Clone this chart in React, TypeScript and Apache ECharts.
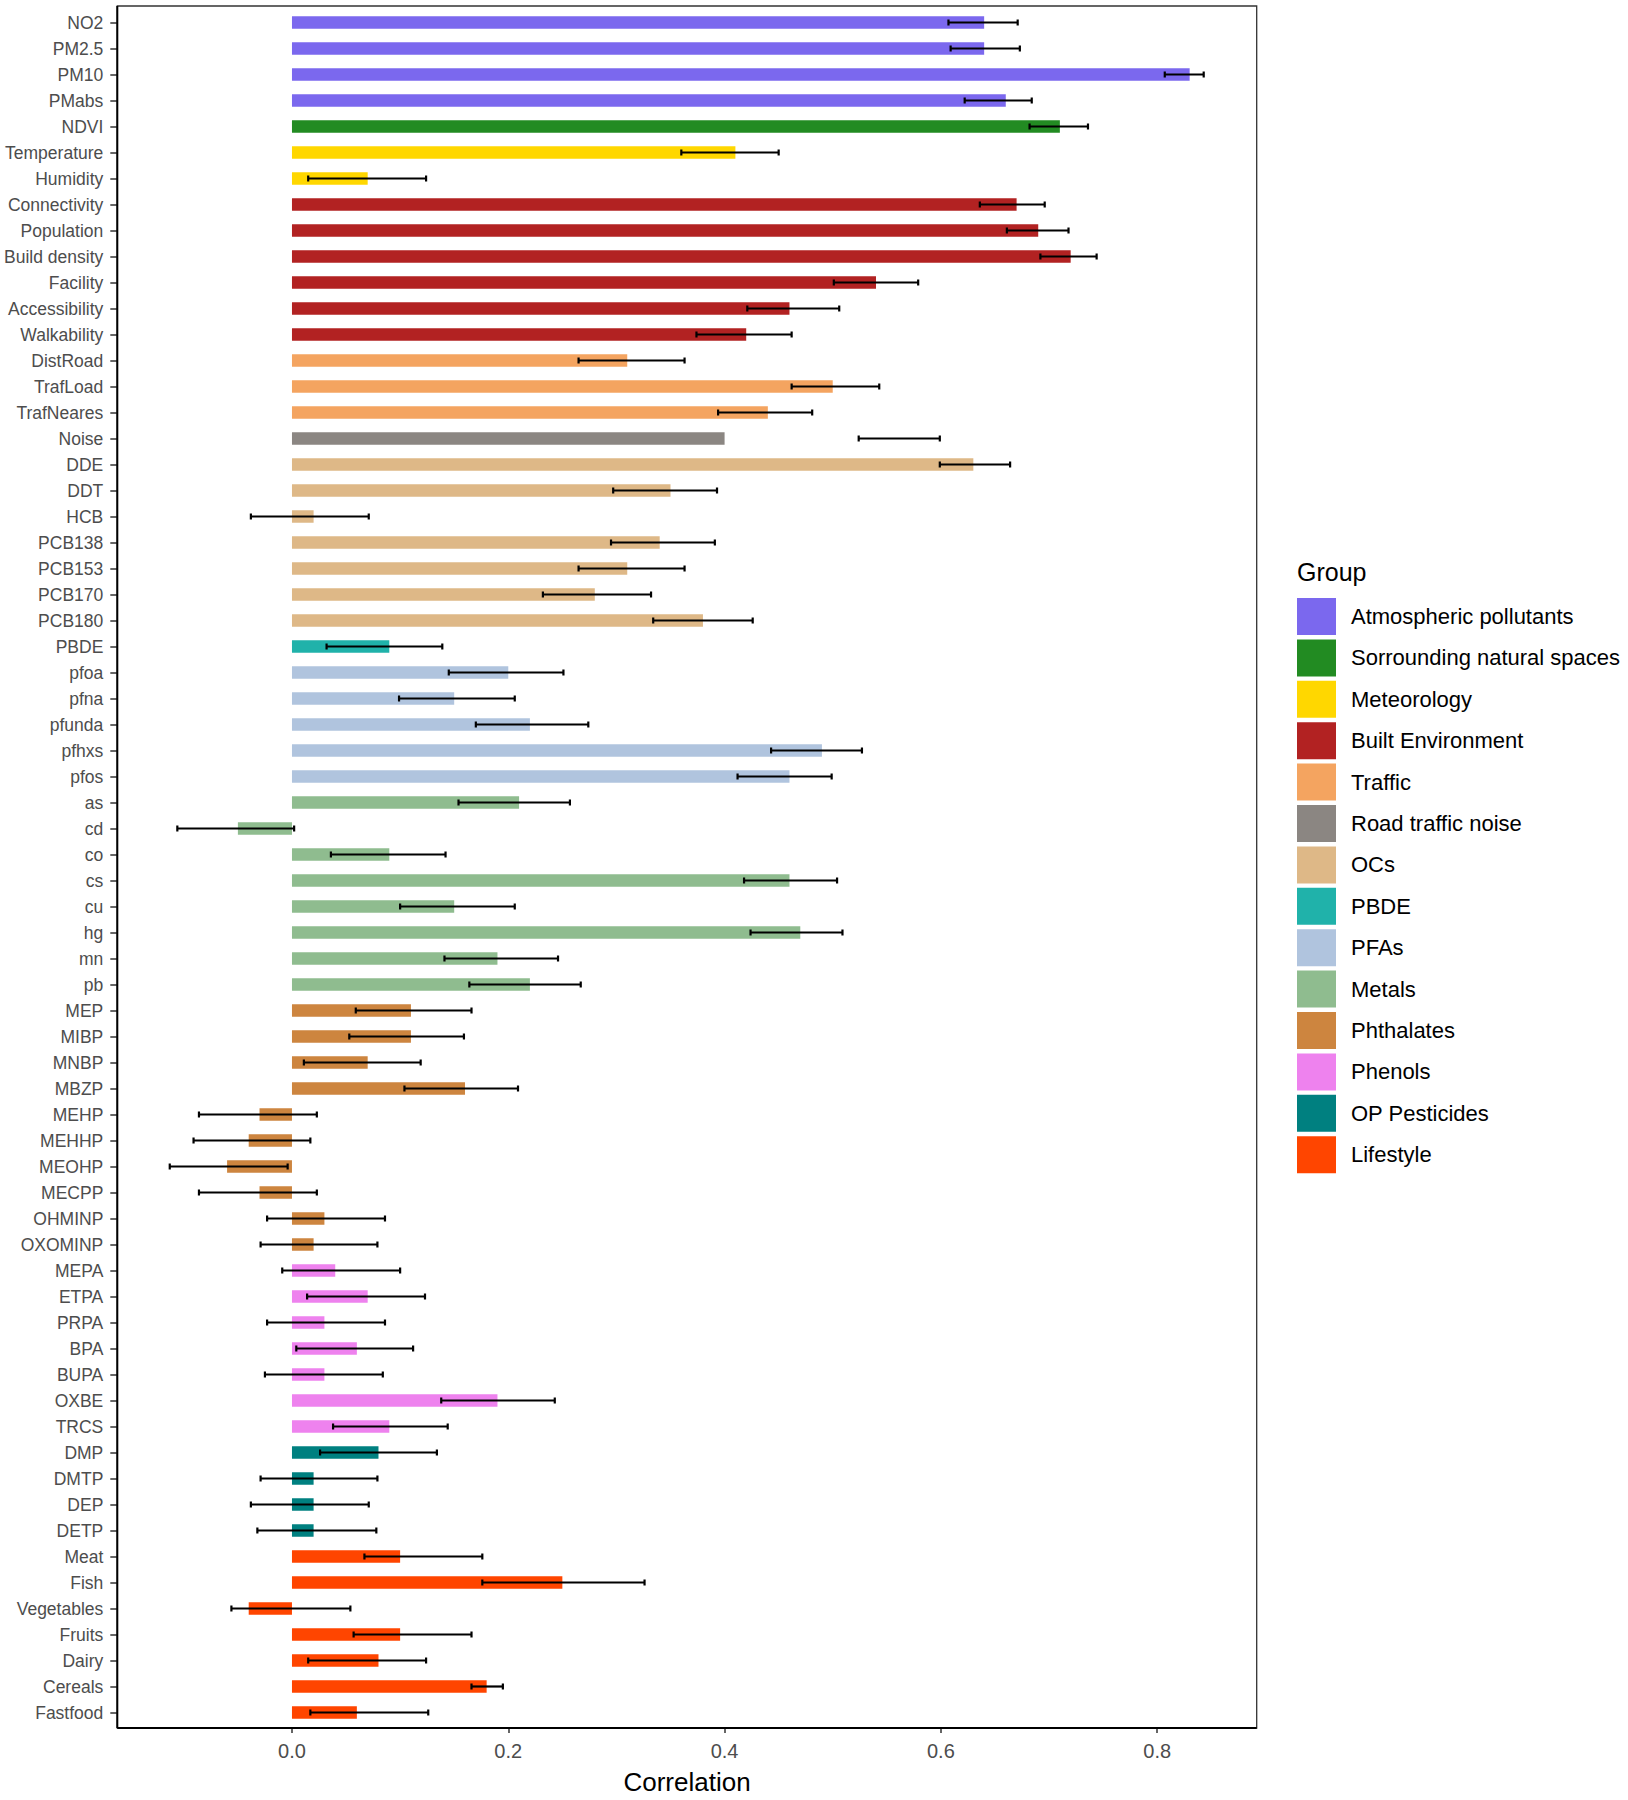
import React, { useEffect, useRef } from "react";
import * as echarts from "echarts";

const categories = [
  "NO2", "PM2.5", "PM10", "PMabs", "NDVI", "Temperature", "Humidity",
  "Connectivity", "Population", "Build density", "Facility", "Accessibility", "Walkability",
  "DistRoad", "TrafLoad", "TrafNeares", "Noise",
  "DDE", "DDT", "HCB", "PCB138", "PCB153", "PCB170", "PCB180", "PBDE",
  "pfoa", "pfna", "pfunda", "pfhxs", "pfos",
  "as", "cd", "co", "cs", "cu", "hg", "mn", "pb",
  "MEP", "MIBP", "MNBP", "MBZP", "MEHP", "MEHHP", "MEOHP", "MECPP", "OHMINP", "OXOMINP",
  "MEPA", "ETPA", "PRPA", "BPA", "BUPA", "OXBE", "TRCS",
  "DMP", "DMTP", "DEP", "DETP",
  "Meat", "Fish", "Vegetables", "Fruits", "Dairy", "Cereals", "Fastfood",
];

const groupOf = [
  "Atmospheric pollutants", "Atmospheric pollutants", "Atmospheric pollutants", "Atmospheric pollutants",
  "Sorrounding natural spaces", "Meteorology", "Meteorology",
  "Built Environment", "Built Environment", "Built Environment", "Built Environment", "Built Environment", "Built Environment",
  "Traffic", "Traffic", "Traffic", "Road traffic noise",
  "OCs", "OCs", "OCs", "OCs", "OCs", "OCs", "OCs", "PBDE",
  "PFAs", "PFAs", "PFAs", "PFAs", "PFAs",
  "Metals", "Metals", "Metals", "Metals", "Metals", "Metals", "Metals", "Metals",
  "Phthalates", "Phthalates", "Phthalates", "Phthalates", "Phthalates", "Phthalates", "Phthalates", "Phthalates", "Phthalates", "Phthalates",
  "Phenols", "Phenols", "Phenols", "Phenols", "Phenols", "Phenols", "Phenols",
  "OP Pesticides", "OP Pesticides", "OP Pesticides", "OP Pesticides",
  "Lifestyle", "Lifestyle", "Lifestyle", "Lifestyle", "Lifestyle", "Lifestyle", "Lifestyle",
];

const correlation = [
  0.64, 0.64, 0.83, 0.66, 0.71, 0.41, 0.07,
  0.67, 0.69, 0.72, 0.54, 0.46, 0.42,
  0.31, 0.50, 0.44, 0.40,
  0.63, 0.35, 0.02, 0.34, 0.31, 0.28, 0.38, 0.09,
  0.20, 0.15, 0.22, 0.49, 0.46,
  0.21, -0.05, 0.09, 0.46, 0.15, 0.47, 0.19, 0.22,
  0.11, 0.11, 0.07, 0.16, -0.03, -0.04, -0.06, -0.03, 0.03, 0.02,
  0.04, 0.07, 0.03, 0.06, 0.03, 0.19, 0.09,
  0.08, 0.02, 0.02, 0.02,
  0.10, 0.25, -0.04, 0.10, 0.08, 0.18, 0.06,
];

const lower = [
  0.607, 0.609, 0.807, 0.622, 0.682, 0.360, 0.015,
  0.636, 0.661, 0.692, 0.501, 0.421, 0.374,
  0.265, 0.462, 0.394, 0.524,
  0.599, 0.297, -0.038, 0.295, 0.265, 0.232, 0.334, 0.032,
  0.145, 0.099, 0.170, 0.443, 0.412,
  0.154, -0.106, 0.036, 0.418, 0.100, 0.424, 0.141, 0.164,
  0.059, 0.053, 0.011, 0.104, -0.086, -0.091, -0.113, -0.086, -0.023, -0.029,
  -0.009, 0.014, -0.023, 0.004, -0.025, 0.138, 0.038,
  0.026, -0.029, -0.038, -0.032,
  0.067, 0.176, -0.056, 0.057, 0.015, 0.166, 0.017,
];

const upper = [
  0.671, 0.673, 0.843, 0.684, 0.736, 0.450, 0.124,
  0.696, 0.718, 0.744, 0.579, 0.506, 0.462,
  0.363, 0.543, 0.481, 0.599,
  0.664, 0.393, 0.071, 0.391, 0.363, 0.332, 0.426, 0.139,
  0.251, 0.206, 0.274, 0.527, 0.499,
  0.257, 0.002, 0.142, 0.504, 0.206, 0.509, 0.246, 0.267,
  0.166, 0.159, 0.119, 0.209, 0.023, 0.017, -0.004, 0.023, 0.086, 0.079,
  0.100, 0.123, 0.086, 0.112, 0.084, 0.243, 0.144,
  0.134, 0.079, 0.071, 0.078,
  0.176, 0.326, 0.054, 0.166, 0.124, 0.195, 0.126,
];

const groups = [
  "Atmospheric pollutants", "Sorrounding natural spaces", "Meteorology", "Built Environment",
  "Traffic", "Road traffic noise", "OCs", "PBDE", "PFAs", "Metals", "Phthalates",
  "Phenols", "OP Pesticides", "Lifestyle",
];

const groupColors = [
  "#7B68EE", "#228B22", "#FFD700", "#B22222", "#F4A460", "#8B8682", "#DEB887",
  "#20B2AA", "#B0C4DE", "#8FBC8F", "#CD853F", "#EE82EE", "#008080", "#FF4500",
];

const xTicks = [0, 0.2, 0.4, 0.6, 0.8];

const FONT = 'Arial, "Liberation Sans", sans-serif';

export default function App() {
  const ref = useRef<HTMLDivElement>(null);

  useEffect(() => {
    if (!ref.current) return;
    const chart = echarts.init(ref.current, undefined, { renderer: "svg" });

    const barSeries = groups.map((g, gi) => ({
      name: g,
      type: "bar",
      stack: "all",
      barWidth: 12.5,
      itemStyle: { color: groupColors[gi] },
      data: categories.map((_, i) => (groupOf[i] === g ? correlation[i] : "-")),
      z: 2,
    }));

    const errData = categories.map((_, i) => [lower[i], upper[i], i]);

    const option = {
      animation: false,
      backgroundColor: "#ffffff",
      textStyle: { fontFamily: FONT },
      grid: { left: 117.3, right: 1628 - 1256.7, top: 9.5, bottom: 73.5, containLabel: false },
      xAxis: {
        type: "value",
        min: -0.1615,
        max: 0.892,
        offset: 1.5,
        axisLine: { show: false, onZero: false },
        splitLine: { show: false },
        axisTick: {
          show: true,
          customValues: xTicks,
          length: 6,
          lineStyle: { color: "#333", width: 1.5 },
        },
        axisLabel: {
          customValues: xTicks,
          formatter: (v: number) => v.toFixed(1),
          fontSize: 20,
          color: "#4D4D4D",
          margin: 14,
          fontFamily: FONT,
        },
        name: "Correlation",
        nameLocation: "middle",
        nameGap: 42,
        nameTextStyle: { fontSize: 26, color: "#000", fontFamily: FONT },
      },
      yAxis: {
        type: "category",
        data: categories,
        inverse: true,
        axisLine: { show: false, onZero: false },
        axisTick: {
          show: true,
          alignWithLabel: true,
          length: 7,
          lineStyle: { color: "#333", width: 1.5 },
        },
        axisLabel: {
          fontSize: 17.5,
          color: "#4D4D4D",
          margin: 14,
          fontFamily: FONT,
        },
        splitLine: { show: false },
      },
      legend: {
        data: groups,
        orient: "vertical",
        left: 1297,
        top: 598,
        padding: 0,
        itemWidth: 39,
        itemHeight: 37,
        itemGap: 4.4,
        icon: "rect",
        selectedMode: false,
        textStyle: { fontSize: 22, color: "#000", fontFamily: FONT, padding: [14, 0, 0, 10] },
      },
      graphic: [
        {
          type: "text",
          left: 1297,
          top: 559,
          style: { text: "Group", fontSize: 25, fill: "#000", fontFamily: FONT },
        },
        {
          type: "rect",
          shape: { x: 117.3, y: 6, width: 1256.7 - 117.3, height: 1728 - 6 },
          style: { fill: "none", stroke: "#333", lineWidth: 1.3 },
          z: 10,
        },
        {
          type: "line",
          shape: { x1: 117.3, y1: 6, x2: 117.3, y2: 1728 },
          style: { stroke: "#000", lineWidth: 2 },
          z: 11,
        },
        {
          type: "line",
          shape: { x1: 117.3, y1: 1728, x2: 1256.7, y2: 1728 },
          style: { stroke: "#000", lineWidth: 2 },
          z: 11,
        },
      ],
      series: [
        ...barSeries,
        {
          type: "custom",
          name: "errorbars",
          data: errData,
          encode: { x: [0, 1], y: 2 },
          z: 5,
          renderItem: (params: any, api: any) => {
            const lo = api.value(0);
            const hi = api.value(1);
            const idx = api.value(2);
            const p1 = api.coord([lo, idx]);
            const p2 = api.coord([hi, idx]);
            const h = 3;
            const st = { stroke: "#000", lineWidth: 2.2 };
            return {
              type: "group",
              children: [
                { type: "line", shape: { x1: p1[0], y1: p1[1], x2: p2[0], y2: p2[1] }, style: st },
                { type: "line", shape: { x1: p1[0], y1: p1[1] - h, x2: p1[0], y2: p1[1] + h }, style: st },
                { type: "line", shape: { x1: p2[0], y1: p2[1] - h, x2: p2[0], y2: p2[1] + h }, style: st },
              ],
            };
          },
        },
      ],
    };

    chart.setOption(option as any);
    return () => chart.dispose();
  }, []);

  return (
    <div
      ref={ref}
      style={{ position: "absolute", left: 0, top: 0, width: 1628, height: 1800, background: "#fff" }}
    />
  );
}
